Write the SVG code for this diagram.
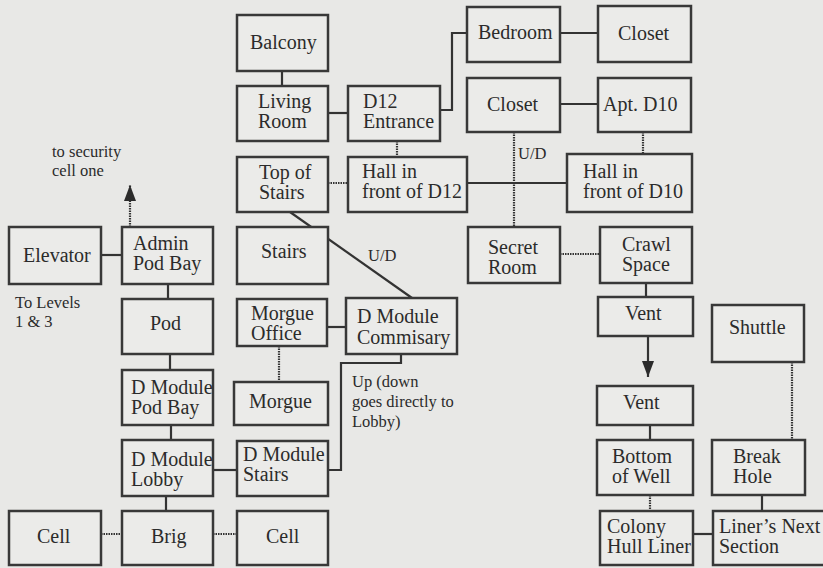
<svg xmlns="http://www.w3.org/2000/svg" width="823" height="568" viewBox="0 0 823 568">
<style>
.bg{fill:#e8e8e6}
.box{fill:#ebebe9;stroke:#383838;stroke-width:2.5}
.t{font-family:"Liberation Serif","Times New Roman",serif;font-size:20px;fill:#2b2b2b}
.s{font-family:"Liberation Serif","Times New Roman",serif;font-size:16.5px;fill:#2b2b2b}
.c{fill:none;stroke:#333;stroke-width:2.2}
.d{fill:none;stroke:#333;stroke-width:2.2;stroke-dasharray:1.5 1}
</style>
<defs>
<marker id="ah" viewBox="0 0 16 12" refX="16" refY="6" markerWidth="16" markerHeight="12" markerUnits="userSpaceOnUse" orient="auto">
<path d="M0,0 L16,6 L0,12 z" fill="#2b2b2b"/>
</marker>
</defs>
<rect class="bg" x="0" y="0" width="823" height="568"/>
<g id="connectors">
<line class="c" x1="282" y1="71" x2="282" y2="86"/>
<line class="c" x1="328" y1="113" x2="348" y2="113"/>
<polyline class="c" points="440,110 452,110 452,33 467,33"/>
<line class="c" x1="560" y1="33" x2="598" y2="33"/>
<line class="c" x1="560" y1="104" x2="598" y2="104"/>
<line class="c" x1="467" y1="183" x2="567" y2="183"/>
<line class="c" x1="101" y1="255" x2="122" y2="255"/>
<line class="c" x1="168" y1="284" x2="168" y2="299"/>
<line class="c" x1="170" y1="354" x2="170" y2="370"/>
<line class="c" x1="171" y1="425" x2="171" y2="440"/>
<line class="c" x1="166" y1="496" x2="166" y2="511"/>
<line class="c" x1="213" y1="470" x2="237" y2="470"/>
<line class="c" x1="327" y1="327" x2="346" y2="327"/>
<line class="c" x1="290" y1="212" x2="412" y2="298"/>
<polyline class="c" points="401,354 401,363 341,363 341,470 328,470"/>
<line class="c" x1="646" y1="283" x2="646" y2="297"/>
<line class="c" x1="648" y1="336" x2="648" y2="377" marker-end="url(#ah)"/>
<line class="c" x1="650" y1="425" x2="650" y2="440"/>
<line class="c" x1="762" y1="495" x2="762" y2="511"/>
<line class="c" x1="693" y1="534" x2="713" y2="534"/>
<line class="d" x1="397" y1="141" x2="397" y2="157"/>
<line class="d" x1="328" y1="183" x2="348" y2="183"/>
<line class="d" x1="514" y1="132" x2="514" y2="227"/>
<line class="d" x1="643" y1="132" x2="643" y2="154"/>
<line class="d" x1="560" y1="254" x2="600" y2="254"/>
<line class="d" x1="279" y1="346" x2="279" y2="382"/>
<line class="d" x1="792" y1="362" x2="792" y2="440"/>
<line class="d" x1="650" y1="495" x2="650" y2="511"/>
<line class="d" x1="101" y1="534" x2="122" y2="534"/>
<line class="d" x1="213" y1="534" x2="237" y2="534"/>
<line class="d" x1="130" y1="227" x2="130" y2="185" marker-end="url(#ah)"/>
</g>
<g id="balcony"><rect class="box" x="237" y="15" width="91" height="56"/><text class="t" x="250" y="49">Balcony</text></g>
<g id="living-room"><rect class="box" x="237" y="86" width="91" height="55"/><text class="t" x="258" y="108">Living</text><text class="t" x="258" y="128">Room</text></g>
<g id="d12-entrance"><rect class="box" x="348" y="86" width="92" height="55"/><text class="t" x="363" y="108">D12</text><text class="t" x="363" y="128">Entrance</text></g>
<g id="bedroom"><rect class="box" x="467" y="7" width="93" height="55"/><text class="t" x="478" y="39">Bedroom</text></g>
<g id="closet-top"><rect class="box" x="598" y="6" width="93" height="56"/><text class="t" x="618" y="40">Closet</text></g>
<g id="closet-mid"><rect class="box" x="467" y="78" width="93" height="54"/><text class="t" x="487" y="111">Closet</text></g>
<g id="apt-d10"><rect class="box" x="598" y="78" width="93" height="54"/><text class="t" x="603" y="111">Apt. D10</text></g>
<g id="top-of-stairs"><rect class="box" x="237" y="157" width="91" height="55"/><text class="t" x="259" y="179">Top of</text><text class="t" x="259" y="199">Stairs</text></g>
<g id="hall-d12"><rect class="box" x="348" y="157" width="119" height="55"/><text class="t" x="362" y="178">Hall in</text><text class="t" x="362" y="198">front of D12</text></g>
<g id="hall-d10"><rect class="box" x="567" y="154" width="125" height="58"/><text class="t" x="583" y="178">Hall in</text><text class="t" x="583" y="198">front of D10</text></g>
<g id="label-ud1"><text class="s" x="518" y="159">U/D</text></g>
<g id="label-security"><text class="s" x="52" y="157">to security</text><text class="s" x="52" y="176">cell one</text></g>
<g id="elevator"><rect class="box" x="9" y="227" width="92" height="57"/><text class="t" x="23" y="262">Elevator</text></g>
<g id="admin-pod-bay"><rect class="box" x="122" y="227" width="91" height="57"/><text class="t" x="133" y="250">Admin</text><text class="t" x="133" y="270">Pod Bay</text></g>
<g id="stairs"><rect class="box" x="237" y="227" width="91" height="57"/><text class="t" x="261" y="258">Stairs</text></g>
<g id="label-ud2"><text class="s" x="368" y="261">U/D</text></g>
<g id="secret-room"><rect class="box" x="468" y="227" width="92" height="56"/><text class="t" x="488" y="254">Secret</text><text class="t" x="488" y="274">Room</text></g>
<g id="crawl-space"><rect class="box" x="600" y="227" width="92" height="56"/><text class="t" x="622" y="251">Crawl</text><text class="t" x="622" y="271">Space</text></g>
<g id="label-levels"><text class="s" x="15" y="308">To Levels</text><text class="s" x="15" y="327">1 &amp; 3</text></g>
<g id="pod"><rect class="box" x="122" y="299" width="91" height="55"/><text class="t" x="150" y="330">Pod</text></g>
<g id="morgue-office"><rect class="box" x="237" y="299" width="90" height="47"/><text class="t" x="251" y="320">Morgue</text><text class="t" x="251" y="340">Office</text></g>
<g id="commisary"><rect class="box" x="346" y="298" width="111" height="56"/><text class="t" x="357" y="323">D Module</text><text class="t" x="357" y="344">Commisary</text></g>
<g id="vent-1"><rect class="box" x="598" y="297" width="95" height="39"/><text class="t" x="625" y="320">Vent</text></g>
<g id="shuttle"><rect class="box" x="712" y="305" width="92" height="57"/><text class="t" x="729" y="334">Shuttle</text></g>
<g id="label-up"><text class="s" x="352" y="387">Up (down</text><text class="s" x="352" y="407">goes directly to</text><text class="s" x="352" y="427">Lobby)</text></g>
<g id="pod-bay"><rect class="box" x="122" y="370" width="91" height="55"/><text class="t" x="131" y="394">D Module</text><text class="t" x="131" y="414">Pod Bay</text></g>
<g id="morgue"><rect class="box" x="234" y="382" width="94" height="43"/><text class="t" x="249" y="408">Morgue</text></g>
<g id="vent-2"><rect class="box" x="597" y="386" width="96" height="39"/><text class="t" x="623" y="409">Vent</text></g>
<g id="lobby"><rect class="box" x="122" y="440" width="91" height="56"/><text class="t" x="131" y="466">D Module</text><text class="t" x="131" y="486">Lobby</text></g>
<g id="d-module-stairs"><rect class="box" x="237" y="441" width="91" height="55"/><text class="t" x="243" y="461">D Module</text><text class="t" x="243" y="481">Stairs</text></g>
<g id="bottom-of-well"><rect class="box" x="597" y="440" width="96" height="55"/><text class="t" x="612" y="463">Bottom</text><text class="t" x="612" y="483">of Well</text></g>
<g id="break-hole"><rect class="box" x="712" y="440" width="93" height="55"/><text class="t" x="733" y="463">Break</text><text class="t" x="733" y="483">Hole</text></g>
<g id="cell-left"><rect class="box" x="9" y="511" width="92" height="54"/><text class="t" x="37" y="543">Cell</text></g>
<g id="brig"><rect class="box" x="122" y="511" width="91" height="54"/><text class="t" x="151" y="543">Brig</text></g>
<g id="cell-right"><rect class="box" x="237" y="511" width="91" height="54"/><text class="t" x="266" y="543">Cell</text></g>
<g id="colony-hull-liner"><rect class="box" x="600" y="511" width="93" height="54"/><text class="t" x="607" y="533">Colony</text><text class="t" x="607" y="553">Hull Liner</text></g>
<g id="liners-next-section"><rect class="box" x="713" y="511" width="115" height="54"/><text class="t" x="719" y="533">Liner’s Next</text><text class="t" x="719" y="553">Section</text></g>
</svg>
